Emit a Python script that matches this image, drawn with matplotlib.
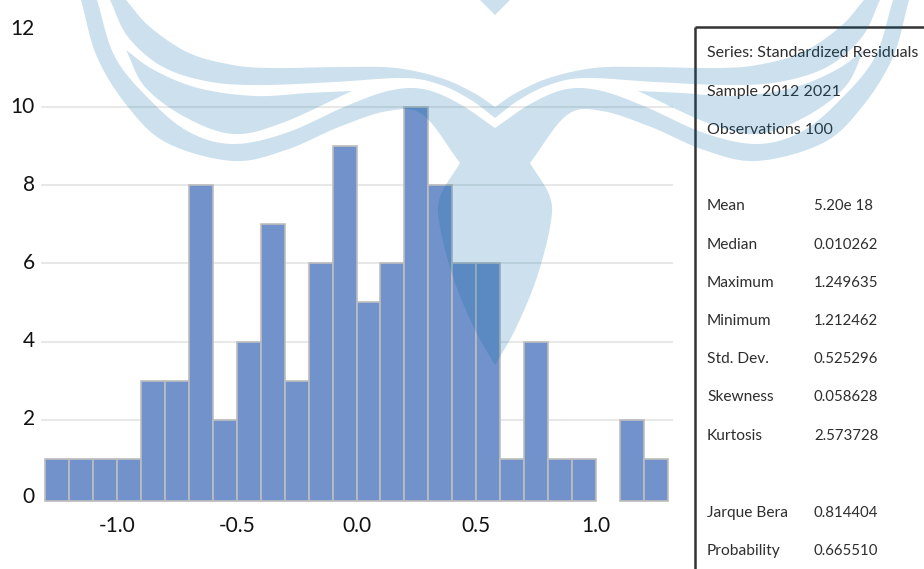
import numpy as np
import matplotlib
matplotlib.use('Agg')
import matplotlib.pyplot as plt
from matplotlib.transforms import ScaledTranslation

plt.rcParams['font.family'] = ['Lato', 'DejaVu Sans']

# histogram of the residuals
bin_left = [-1.3, -1.2, -1.1, -1.0, -0.9, -0.8, -0.7, -0.6, -0.5, -0.4, -0.3, -0.2, -0.1,
            0.0, 0.1, 0.2, 0.3, 0.4, 0.5, 0.6, 0.7, 0.8, 0.9, 1.0, 1.1, 1.2]
counts = [1, 1, 1, 1, 3, 3, 8, 2, 4, 7, 3, 6, 9, 5, 6, 10, 8, 6, 6, 1, 4, 1, 1, 0, 2, 1]
x_ticks = [-1.0, -0.5, 0.0, 0.5, 1.0]
x_labels = ['-1.0', '-0.5', '0.0', '0.5', '1.0']
y_ticks = [0, 2, 4, 6, 8, 10, 12]
grid_levels = [2, 4, 6, 8, 10]

# stats panel
header_lines = ['Series: Standardized Residuals', 'Sample 2012 2021', 'Observations 100']
stat_names = ['Mean', 'Median', 'Maximum', 'Minimum', 'Std. Dev.', 'Skewness', 'Kurtosis', 'Jarque Bera', 'Probability']
stat_values = ['5.20e 18', '0.010262', '1.249635', '1.212462', '0.525296', '0.058628', '2.573728', '0.814404', '0.665510']

W, H = 924, 569
fig = plt.figure(figsize=(W / 100, H / 100), dpi=100)

left, right, top, bottom = 40.5, 673, 27, 505
ax = fig.add_axes([left / W, 1 - bottom / H, (right - left) / W, (bottom - top) / H])
ax.set_xlim(-1.319, 1.321)
ax.set_ylim(-0.19, 12.06)

for lvl in grid_levels:
    ax.axhline(lvl, color='#E8E8E8', lw=1.5, zorder=1)

# bars sit a little below the zero line in the original
base = -0.09
for x0, c in zip(bin_left, counts):
    if c > 0:
        ax.bar(x0, c - base, bottom=base, width=0.1, align='edge', color='#7292CB',
               edgecolor='#BDBDBD', linewidth=1.2, zorder=2)

for s in ax.spines.values():
    s.set_visible(False)
ax.set_xticks(x_ticks)
ax.set_xticklabels(x_labels)
ax.set_yticks(y_ticks)
ax.tick_params(length=0, labelsize=15, labelcolor='#111111')
ax.tick_params(axis='x', pad=8)
ax.tick_params(axis='y', pad=4)
for lab in ax.get_yticklabels():
    lab.set_transform(lab.get_transform() + ScaledTranslation(0, 2 / 72, fig.dpi_scale_trans))

# overlay in pixel coordinates for panel + watermark
ov = fig.add_axes([0, 0, 1, 1], zorder=5)
ov.set_xlim(0, W)
ov.set_ylim(H, 0)
ov.axis('off')
ov.patch.set_alpha(0)

ov.plot([695, 695], [27, H], color='#333333', lw=1.8, solid_capstyle='butt')
ov.plot([695, W], [27, 27], color='#333333', lw=1.8, solid_capstyle='butt')

for t, y in zip(header_lines, [53, 92, 130]):
    ov.text(707, y, t, fontsize=11.5, color='#2E2E2E', va='center', ha='left')
stat_y = [206, 245, 283, 321, 359, 397, 436, 513, 551]
for name, val, y in zip(stat_names, stat_values, stat_y):
    ov.text(707, y, name, fontsize=11.2, color='#2E2E2E', va='center', ha='left')
    ov.text(814, y, val, fontsize=10.8, color='#2E2E2E', va='center', ha='left')


# watermark logo, traced by eye, mirrored around x=495
def smooth(pts, n=12):
    p = np.array(pts, dtype=float)
    p = np.vstack([2 * p[0] - p[1], p, 2 * p[-1] - p[-2]])
    out = []
    for i in range(1, len(p) - 2):
        for t in np.linspace(0, 1, n, endpoint=False):
            out.append(0.5 * (2 * p[i] + (p[i + 1] - p[i - 1]) * t
                              + (2 * p[i - 1] - 5 * p[i] + 4 * p[i + 1] - p[i + 2]) * t ** 2
                              + (3 * p[i] - p[i - 1] - 3 * p[i + 1] + p[i + 2]) * t ** 3))
    out.append(p[-2])
    return np.array(out)


def mirror(a):
    m = a[::-1].copy()
    m[:, 0] = 990 - m[:, 0]
    return m


wing_under = [(81, 0), (97, 57), (128, 107), (167, 143), (233, 161), (286, 150), (339, 127), (388, 111), (423, 115), (460, 163)]
body = [(460, 163), (440, 197), (440, 227), (454, 280), (475, 330), (495, 365)]
wing_over = [(97, 0), (115, 57), (150, 100), (189, 132), (233, 144), (286, 133), (344, 107), (388, 91), (423, 89), (458, 103), (495, 128)]
mid_low = [(126, 50), (145, 87), (185, 117), (233, 134), (282, 123), (352, 91)]
mid_up = [(352, 91), (308, 93), (255, 96), (198, 88), (154, 70), (126, 50)]
top_low = [(110, 0), (128, 37), (163, 67), (211, 82), (264, 85), (335, 82), (405, 78), (441, 85), (471, 100), (495, 118)]
top_up = [(126, 0), (150, 27), (189, 53), (233, 65), (273, 68), (344, 67), (396, 68), (441, 78), (474, 93), (495, 107)]

logo_rgba = (0.0, 0.42, 0.65, 0.2)

half = np.vstack([smooth(wing_under), smooth(body)])
over = smooth(wing_over)
outline = np.vstack([half, mirror(half), mirror(over)[::-1], over[::-1]])
ov.fill(outline[:, 0], outline[:, 1], color=logo_rgba, lw=0, zorder=10)

mid = np.vstack([smooth(mid_low), smooth(mid_up)])
ov.fill(mid[:, 0], mid[:, 1], color=logo_rgba, lw=0, zorder=10)
ov.fill(990 - mid[:, 0], mid[:, 1], color=logo_rgba, lw=0, zorder=10)

low = smooth(top_low)
up = smooth(top_up)
band = np.vstack([low, mirror(low), mirror(up)[::-1], up[::-1]])
ov.fill(band[:, 0], band[:, 1], color=logo_rgba, lw=0, zorder=10)

ov.fill([480, 495, 510], [0, 15, 0], color=logo_rgba, lw=0, zorder=10)

fig.savefig('out.png', dpi=100)
